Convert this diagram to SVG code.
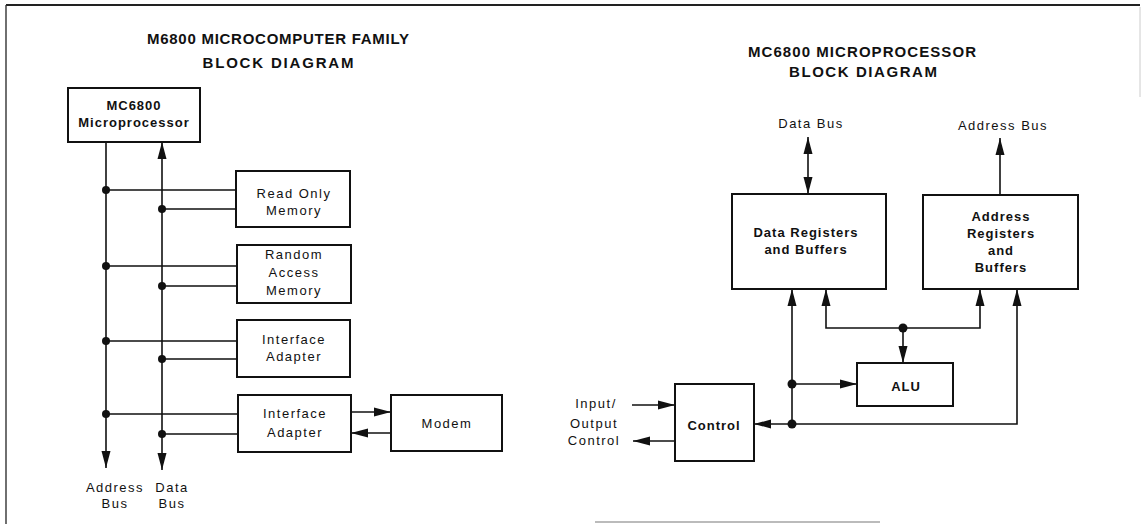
<svg xmlns="http://www.w3.org/2000/svg" width="1141" height="524" viewBox="0 0 1141 524">
<style>
text{font-family:"Liberation Sans",Arial,sans-serif;fill:#111;}
.t{font-size:15px;font-weight:bold;text-anchor:middle;}
.r{font-size:13px;letter-spacing:1.5px;text-anchor:middle;}
.b{font-size:13px;font-weight:bold;letter-spacing:1px;text-anchor:middle;}
.box{fill:#fff;stroke:#111;stroke-width:2;}
.ln{fill:none;stroke:#111;stroke-width:1.6;}
.dot{fill:#111;}
</style>
<defs>
<marker id="ah" markerUnits="userSpaceOnUse" markerWidth="18" markerHeight="10" refX="17" refY="5" orient="auto-start-reverse">
<path d="M0,0.5 L17,5 L0,9.5 z" fill="#111"/>
</marker>
</defs>
<g id="frame">
<path d="M6,5 H1140" stroke="#222" stroke-width="1.8" fill="none"/>
<path d="M6,5 V524" stroke="#333" stroke-width="1.4" fill="none"/>
<path d="M1140,7 V97" stroke="#ccc" stroke-width="1" fill="none"/>
<path d="M595,522 H880" stroke="#bbb" stroke-width="2" fill="none"/>
</g>
<g id="title-left">
<text class="t" x="278" y="44" textLength="262" lengthAdjust="spacing">M6800 MICROCOMPUTER FAMILY</text>
<text class="t" x="278" y="68" textLength="151" lengthAdjust="spacing">BLOCK DIAGRAM</text>
</g>
<g id="title-right">
<text class="t" x="862" y="57" textLength="228" lengthAdjust="spacing">MC6800 MICROPROCESSOR</text>
<text class="t" x="863" y="77" textLength="148" lengthAdjust="spacing">BLOCK DIAGRAM</text>
</g>
<g id="connectors">
<path class="ln" d="M106,142 V468" marker-end="url(#ah)"/>
<path class="ln" d="M162,142 V470" marker-start="url(#ah)" marker-end="url(#ah)"/>
<path class="ln" d="M106,190 H236 M162,209 H236 M106,266 H237 M162,286 H237 M106,341 H237 M162,359 H237 M106,414 H238 M162,434 H238"/>
<path class="ln" d="M351,412 H391" marker-end="url(#ah)"/>
<path class="ln" d="M390,433 H351" marker-end="url(#ah)"/>
<path class="ln" d="M808,137 V194" marker-start="url(#ah)" marker-end="url(#ah)"/>
<path class="ln" d="M1000,195 V138" marker-end="url(#ah)"/>
<path class="ln" d="M792,424 V289" marker-end="url(#ah)"/>
<path class="ln" d="M826,289 V328 H980 V289" marker-start="url(#ah)" marker-end="url(#ah)"/>
<path class="ln" d="M903,328 V363" marker-end="url(#ah)"/>
<path class="ln" d="M792,384 H857" marker-end="url(#ah)"/>
<path class="ln" d="M792,424 H1017 V289" marker-end="url(#ah)"/>
<path class="ln" d="M792,424 H754" marker-end="url(#ah)"/>
<path class="ln" d="M632,405 H675" marker-end="url(#ah)"/>
<path class="ln" d="M675,441 H633" marker-end="url(#ah)"/>
<circle class="dot" cx="106" cy="190" r="4"/>
<circle class="dot" cx="162" cy="209" r="4"/>
<circle class="dot" cx="106" cy="266" r="4"/>
<circle class="dot" cx="162" cy="286" r="4"/>
<circle class="dot" cx="106" cy="341" r="4"/>
<circle class="dot" cx="162" cy="359" r="4"/>
<circle class="dot" cx="106" cy="414" r="4"/>
<circle class="dot" cx="162" cy="434" r="4"/>
<circle class="dot" cx="903" cy="328" r="4.5"/>
<circle class="dot" cx="792" cy="384" r="4.5"/>
<circle class="dot" cx="792" cy="424" r="4.5"/>
</g>
<g id="mpu">
<rect class="box" x="68" y="88" width="132" height="54"/>
<text class="b" x="134" y="110">MC6800</text>
<text class="b" x="134" y="127">Microprocessor</text>
</g>
<g id="rom">
<rect class="box" x="236" y="171" width="114" height="56"/>
<text class="r" x="294" y="198">Read Only</text>
<text class="r" x="294" y="215">Memory</text>
</g>
<g id="ram">
<rect class="box" x="237" y="245" width="114" height="58"/>
<text class="r" x="294" y="259">Random</text>
<text class="r" x="294" y="277">Access</text>
<text class="r" x="294" y="295">Memory</text>
</g>
<g id="ia1">
<rect class="box" x="237" y="320" width="113" height="57"/>
<text class="r" x="294" y="344">Interface</text>
<text class="r" x="294" y="361">Adapter</text>
</g>
<g id="ia2">
<rect class="box" x="238" y="395" width="113" height="57"/>
<text class="r" x="295" y="418">Interface</text>
<text class="r" x="295" y="437">Adapter</text>
</g>
<g id="modem">
<rect class="box" x="391" y="395" width="111" height="56"/>
<text class="r" x="447" y="428">Modem</text>
</g>
<g id="bus-labels-left">
<text class="r" x="115" y="492">Address</text>
<text class="r" x="115" y="508">Bus</text>
<text class="r" x="172" y="492">Data</text>
<text class="r" x="172" y="508">Bus</text>
</g>
<g id="data-bus-label">
<text class="r" x="811" y="128">Data Bus</text>
</g>
<g id="address-bus-label">
<text class="r" x="1003" y="130">Address Bus</text>
</g>
<g id="data-registers">
<rect class="box" x="732" y="194" width="154" height="95"/>
<text class="b" x="806" y="237">Data Registers</text>
<text class="b" x="806" y="254">and Buffers</text>
</g>
<g id="address-registers">
<rect class="box" x="923" y="195" width="155" height="94"/>
<text class="b" x="1001" y="221">Address</text>
<text class="b" x="1001" y="238">Registers</text>
<text class="b" x="1001" y="255">and</text>
<text class="b" x="1001" y="272">Buffers</text>
</g>
<g id="alu">
<rect class="box" x="857" y="363" width="96" height="43"/>
<text class="b" x="906" y="391">ALU</text>
</g>
<g id="control">
<rect class="box" x="675" y="384" width="79" height="77"/>
<text class="b" x="714" y="430">Control</text>
</g>
<g id="io-labels">
<text class="r" x="596" y="408">Input/</text>
<text class="r" x="594" y="428">Output</text>
<text class="r" x="594" y="445">Control</text>
</g>
</svg>
